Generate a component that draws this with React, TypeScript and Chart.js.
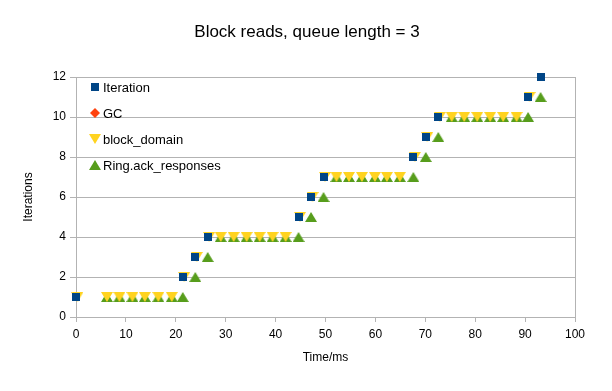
import React, { useEffect, useRef } from "react";
import { Chart, registerables } from "chart.js";

Chart.register(...registerables);

const TITLE = "Block reads, queue length = 3";
const X_TITLE = "Time/ms";
const Y_TITLE = "Iterations";

const iterationX = [0, 21.4, 23.9, 26.4, 44.6, 47.1, 49.6, 67.6, 70.1, 72.6, 90.6, 93.1];
const iterationY = [1, 2, 3, 4, 5, 6, 7, 8, 9, 10, 11, 12];

const gcX: number[] = [];
const gcY: number[] = [];

const blockX = [
  0.3, 6.2, 8.7, 11.3, 13.8, 16.5, 19.2, 21.7, 24.2, 26.7, 29.0, 31.6, 34.2, 36.8, 39.4, 42.0,
  44.9, 47.4, 49.9, 52.2, 54.7, 57.3, 59.9, 62.3, 64.9, 67.9, 70.4, 72.9, 75.3, 77.8, 80.4, 83.0,
  85.6, 88.3, 90.9,
];
const blockY = [
  1, 1, 1, 1, 1, 1, 1, 2, 3, 4, 4, 4, 4, 4, 4, 4, 5, 6, 7, 7, 7, 7, 7, 7, 7, 8, 9, 10, 10, 10, 10,
  10, 10, 10, 11,
];

const ringX = [
  6.2, 8.7, 11.3, 13.8, 16.5, 19.2, 21.4, 23.9, 26.4, 29.0, 31.6, 34.2, 36.8, 39.4, 42.0, 44.6,
  47.1, 49.6, 52.2, 54.7, 57.3, 59.9, 62.3, 64.9, 67.6, 70.1, 72.6, 75.3, 77.8, 80.4, 83.0, 85.6,
  88.3, 90.6, 93.1,
];
const ringY = [
  1, 1, 1, 1, 1, 1, 1, 2, 3, 4, 4, 4, 4, 4, 4, 4, 5, 6, 7, 7, 7, 7, 7, 7, 7, 8, 9, 10, 10, 10, 10,
  10, 10, 10, 11,
];

const seriesNames = ["Iteration", "GC", "block_domain", "Ring.ack_responses"];
const seriesColors = ["#004586", "#ff420e", "#ffd320", "#579d1c"];

const xTicks = { min: 0, max: 100, step: 10 };
const yTicks = { min: 0, max: 12, step: 2 };

const FONT = "'Liberation Sans', Arial, sans-serif";
const GRID = "#b3b3b3";

function makeMarker(kind: string, color: string): HTMLCanvasElement {
  const c = document.createElement("canvas");
  let w = 8, h = 8;
  if (kind === "down" || kind === "up") { w = 12; h = 10; }
  if (kind === "diamond") { w = 10; h = 10; }
  c.width = w;
  c.height = h;
  const g = c.getContext("2d")!;
  g.fillStyle = color;
  g.beginPath();
  if (kind === "square") {
    g.rect(0, 0, w, h);
  } else if (kind === "down") {
    g.moveTo(0, 0); g.lineTo(w, 0); g.lineTo(w / 2, h); g.closePath();
  } else if (kind === "up") {
    g.moveTo(w / 2, 0); g.lineTo(w, h); g.lineTo(0, h); g.closePath();
  } else {
    g.moveTo(w / 2, 0); g.lineTo(w, h / 2); g.lineTo(w / 2, h); g.lineTo(0, h / 2); g.closePath();
  }
  g.fill();
  return c;
}

function pts(xs: number[], ys: number[]) {
  return xs.map((x, i) => ({ x, y: ys[i] }));
}

export default function App() {
  const ref = useRef<HTMLCanvasElement | null>(null);

  useEffect(() => {
    if (!ref.current) return;
    const markers = [
      makeMarker("square", seriesColors[0]),
      makeMarker("diamond", seriesColors[1]),
      makeMarker("down", seriesColors[2]),
      makeMarker("up", seriesColors[3]),
    ];

    const decor = {
      id: "decor",
      beforeDatasetsDraw(chart: any) {
        const { ctx, chartArea: a } = chart;
        ctx.save();
        ctx.strokeStyle = GRID;
        ctx.lineWidth = 1;
        ctx.strokeRect(Math.round(a.left) + 0.5, Math.round(a.top) + 0.5, Math.round(a.right - a.left), Math.round(a.bottom - a.top));
        ctx.restore();
      },
      afterDraw(chart: any) {
        const { ctx, chartArea: a } = chart;
        ctx.save();
        ctx.fillStyle = "#000";
        ctx.textBaseline = "middle";
        ctx.textAlign = "center";
        ctx.font = `17px ${FONT}`;
        ctx.fillText(TITLE, 307, 32);
        ctx.font = `12px ${FONT}`;
        ctx.fillText(X_TITLE, (a.left + a.right) / 2, 358);
        ctx.translate(29, (a.top + a.bottom) / 2);
        ctx.rotate(-Math.PI / 2);
        ctx.fillText(Y_TITLE, 0, 0);
        ctx.restore();

        // legend inside plot
        ctx.save();
        ctx.font = `13px ${FONT}`;
        ctx.textBaseline = "middle";
        ctx.textAlign = "left";
        ctx.fillStyle = "#000";
        const ys = [87, 113, 139, 165];
        seriesNames.forEach((name, i) => {
          const m = markers[i];
          ctx.drawImage(m, Math.round(95 - m.width / 2), Math.round(ys[i] - m.height / 2));
          ctx.fillText(name, 103, ys[i] + 1);
        });
        ctx.restore();
      },
    };

    const chart = new Chart(ref.current, {
      type: "scatter",
      data: {
        datasets: [
          { label: seriesNames[0], data: pts(iterationX, iterationY), pointStyle: markers[0] as any, backgroundColor: seriesColors[0], borderColor: seriesColors[0] },
          { label: seriesNames[1], data: pts(gcX, gcY), pointStyle: markers[1] as any, backgroundColor: seriesColors[1], borderColor: seriesColors[1] },
          { label: seriesNames[2], data: pts(blockX, blockY), pointStyle: markers[2] as any, backgroundColor: seriesColors[2], borderColor: seriesColors[2] },
          { label: seriesNames[3], data: pts(ringX, ringY), pointStyle: markers[3] as any, backgroundColor: seriesColors[3], borderColor: seriesColors[3] },
        ],
      },
      options: {
        animation: false,
        responsive: false,
        devicePixelRatio: 1,
        clip: false as any,
        layout: { padding: { left: 0, right: 37, top: 77, bottom: 0 } },
        plugins: {
          legend: { display: false },
          title: { display: false },
          tooltip: { enabled: false },
        },
        scales: {
          x: {
            type: "linear",
            min: xTicks.min,
            max: xTicks.max,
            afterFit: (s: any) => { s.height = 74; },
            ticks: { stepSize: xTicks.step, color: "#000", font: { family: FONT, size: 12 }, padding: 5, maxRotation: 0 },
            grid: { drawOnChartArea: false, drawTicks: true, tickLength: 5, color: GRID },
            border: { color: GRID },
          },
          y: {
            type: "linear",
            min: yTicks.min,
            max: yTicks.max,
            afterFit: (s: any) => { s.width = 76; },
            ticks: { stepSize: yTicks.step, color: "#000", font: { family: FONT, size: 12 }, padding: 4 },
            grid: { color: GRID, tickLength: 6 },
            border: { color: GRID },
          },
        },
      },
      plugins: [decor],
    });
    return () => chart.destroy();
  }, []);

  return (
    <div style={{ position: "fixed", left: 0, top: 0, width: 612, height: 391, background: "#fff" }}>
      <canvas ref={ref} width={612} height={391} />
    </div>
  );
}
